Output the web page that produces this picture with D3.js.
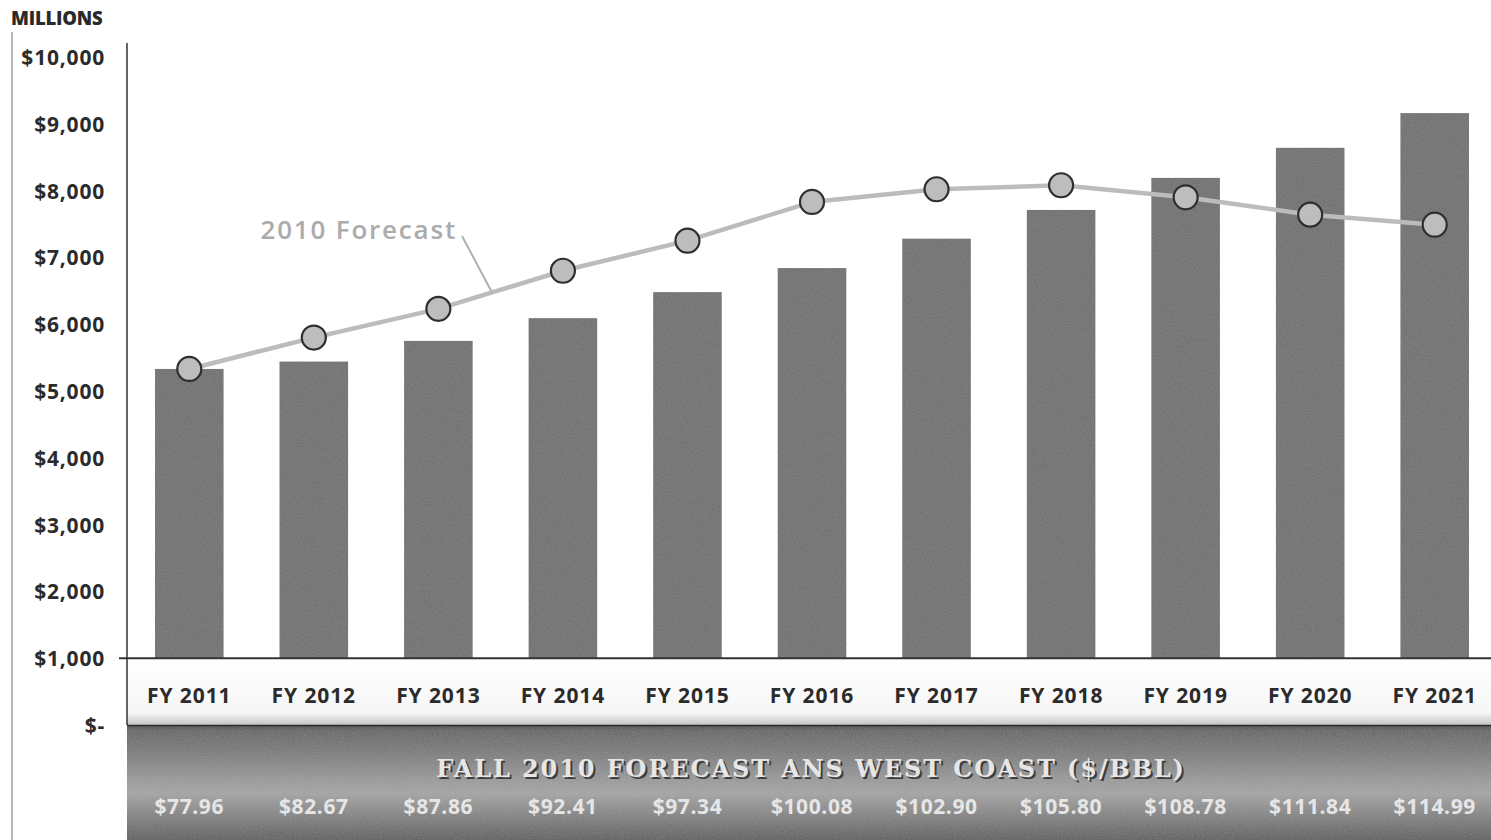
<!DOCTYPE html>
<html>
<head>
<meta charset="utf-8">
<script src="https://cdn.jsdelivr.net/npm/d3@7"></script>
<style>
  html, body { margin: 0; padding: 0; background: #fff; }
  svg { display: block; }
</style>
</head>
<body>
<svg id="chart" width="1491" height="840"></svg>
<script>
// Fiscal years shown along the x axis
const years = ["FY 2011", "FY 2012", "FY 2013", "FY 2014", "FY 2015", "FY 2016",
               "FY 2017", "FY 2018", "FY 2019", "FY 2020", "FY 2021"];
// Current projection (bars), $ millions
const current = [5330, 5440, 5750, 6090, 6480, 6840, 7280, 7710, 8190, 8640, 9160];
// 2010 forecast (line), $ millions
const forecast2010 = [5330, 5800, 6230, 6800, 7250, 7830, 8020, 8080, 7900, 7640, 7490];
// ANS West Coast oil price forecast, $/bbl
const oilPrice = ["$77.96", "$82.67", "$87.86", "$92.41", "$97.34", "$100.08",
                  "$102.90", "$105.80", "$108.78", "$111.84", "$114.99"];
// Y axis tick values and labels
const yTicks = [0, 1000, 2000, 3000, 4000, 5000, 6000, 7000, 8000, 9000, 10000];
const yTickLabels = ["$-", "$1,000", "$2,000", "$3,000", "$4,000", "$5,000",
                     "$6,000", "$7,000", "$8,000", "$9,000", "$10,000"];
const priceTitle = "FALL 2010 FORECAST ANS WEST COAST ($/BBL)";

const svg = d3.select("#chart");
const W = 1491, H = 840;
const left = 127, right = 1497;
const sans = "Open Sans, sans-serif";

const x = d3.scaleBand().domain(years).range([left, right])
  .paddingInner(0.45).paddingOuter(0.225);
const y = d3.scaleLinear().domain([0, 10000]).range([725, 57]);

const defs = svg.append("defs");
const grad = defs.append("linearGradient").attr("id", "bandGrad")
  .attr("x1", 0).attr("y1", 0).attr("x2", 0).attr("y2", 1);
[[0, "#3a3a3a"], [0.05, "#5e5e5e"], [0.25, "#777777"], [0.5, "#9a9a9a"],
 [0.6, "#a2a2a2"], [0.8, "#7c7c7c"], [1, "#555555"]]
  .forEach(([o, c]) => grad.append("stop").attr("offset", o).attr("stop-color", c));

const shade = defs.append("linearGradient").attr("id", "shadeGrad")
  .attr("x1", 0).attr("y1", 0).attr("x2", 0).attr("y2", 1);
[[0, "#ffffff"], [0.82, "#f6f6f6"], [1, "#c4c4c4"]]
  .forEach(([o, c]) => shade.append("stop").attr("offset", o).attr("stop-color", c));

// Grain texture for the bars and the price band
function grainFilter(id, level, alpha, seed) {
  const f = defs.append("filter").attr("id", id)
    .attr("x", 0).attr("y", 0).attr("width", 1).attr("height", 1);
  f.append("feTurbulence").attr("type", "fractalNoise")
    .attr("baseFrequency", 0.9).attr("numOctaves", 2).attr("seed", seed).attr("result", "noise");
  f.append("feColorMatrix").attr("in", "noise").attr("type", "matrix")
    .attr("values", `0 0 0 0 ${level}  0 0 0 0 ${level}  0 0 0 0 ${level}  0 0 0 ${alpha} 0`)
    .attr("result", "tint");
  f.append("feComposite").attr("in", "tint").attr("in2", "SourceGraphic")
    .attr("operator", "in").attr("result", "g");
  const m = f.append("feMerge");
  m.append("feMergeNode").attr("in", "SourceGraphic");
  m.append("feMergeNode").attr("in", "g");
}
grainFilter("grain", 0.4, 0.35, 3);
grainFilter("grainBand", 0.55, 0.25, 7);

// Left frame edge
svg.append("line").attr("x1", 12).attr("x2", 12).attr("y1", 32).attr("y2", 840)
  .attr("stroke", "#a0a0a0").attr("stroke-width", 1.5);

// "MILLIONS" unit label
svg.append("text").attr("x", 11).attr("y", 25)
  .attr("font-family", sans).attr("font-weight", 800)
  .attr("font-size", 18.5).attr("letter-spacing", -0.2).attr("fill", "#2a2a2a")
  .text("MILLIONS");

// Bars
svg.append("g").selectAll("rect").data(years).join("rect")
  .attr("x", d => x(d))
  .attr("width", x.bandwidth())
  .attr("y", (d, i) => y(current[i]))
  .attr("height", (d, i) => y(0) - y(current[i]))
  .attr("fill", "#6a6a6a")
  .attr("filter", "url(#grain)");

// Category label strip covering the $0-$1,000 zone
svg.append("rect").attr("x", left).attr("y", y(1000))
  .attr("width", W - left).attr("height", y(0) - y(1000))
  .attr("fill", "url(#shadeGrad)");

svg.append("g").selectAll("text").data(years).join("text")
  .attr("x", d => x(d) + x.bandwidth() / 2)
  .attr("y", 703)
  .attr("text-anchor", "middle")
  .attr("font-family", sans).attr("font-weight", 700)
  .attr("font-size", 21).attr("letter-spacing", 0.9).attr("fill", "#2b2b2b")
  .text(d => d);

// Baseline at $1,000
svg.append("line").attr("x1", 119).attr("x2", W).attr("y1", y(1000)).attr("y2", y(1000))
  .attr("stroke", "#333").attr("stroke-width", 2);

// Vertical axis line
svg.append("line").attr("x1", left).attr("x2", left)
  .attr("y1", y(10000) - 14).attr("y2", y(0))
  .attr("stroke", "#333").attr("stroke-width", 1.5);

// Y axis labels
const yAxis = d3.axisLeft(y).tickValues(yTicks).tickSize(0).tickPadding(0)
  .tickFormat((d, i) => yTickLabels[i]);
const ya = svg.append("g").attr("transform", "translate(105,0)").call(yAxis);
ya.select(".domain").remove();
ya.selectAll("text")
  .attr("font-family", sans).attr("font-weight", 700)
  .attr("font-size", 21).attr("letter-spacing", 0.8).attr("fill", "#2b2b2b")
  .attr("dy", "0.36em");

// Oil price band
svg.append("rect").attr("x", left).attr("y", y(0))
  .attr("width", W - left).attr("height", H - y(0))
  .attr("fill", "url(#bandGrad)").attr("filter", "url(#grainBand)");
svg.append("line").attr("x1", left).attr("x2", W).attr("y1", y(0) + 0.5).attr("y2", y(0) + 0.5)
  .attr("stroke", "#2a2a2a").attr("stroke-width", 1.5);

// Band title, embossed
const tx = (left + W) / 2 + 2, ty = 777;
const titleStyle = s => s.attr("text-anchor", "middle")
  .attr("font-family", "DejaVu Serif, serif").attr("font-weight", 700)
  .attr("font-size", 24).attr("letter-spacing", 1.9);
svg.append("text").attr("x", tx + 2).attr("y", ty + 2).call(titleStyle)
  .attr("fill", "#3c3c3c").text(priceTitle);
svg.append("text").attr("x", tx).attr("y", ty).call(titleStyle)
  .attr("fill", "#e6e6e6").text(priceTitle);

// Price labels
svg.append("g").selectAll("text").data(years).join("text")
  .attr("x", d => x(d) + x.bandwidth() / 2)
  .attr("y", 814)
  .attr("text-anchor", "middle")
  .attr("font-family", sans).attr("font-weight", 700)
  .attr("font-size", 21).attr("letter-spacing", 0.6).attr("fill", "#e6e6e6")
  .text((d, i) => oilPrice[i]);

// 2010 forecast line
const cx = d => x(d) + x.bandwidth() / 2;
const line = d3.line().x(d => cx(d[0])).y(d => y(d[1]));
const pts = years.map((d, i) => [d, forecast2010[i]]);
svg.append("path").datum(pts).attr("d", line)
  .attr("fill", "none").attr("stroke", "#bcbcbc").attr("stroke-width", 4.5);

// Callout for the forecast line
const i0 = 2, i1 = 3;
const lx = 492;
const t = (lx - cx(years[i0])) / (cx(years[i1]) - cx(years[i0]));
const ly = y(forecast2010[i0] + t * (forecast2010[i1] - forecast2010[i0]));
svg.append("line").attr("x1", 462).attr("y1", 236).attr("x2", lx).attr("y2", ly)
  .attr("stroke", "#b0b0b0").attr("stroke-width", 2);
svg.append("text").attr("x", 457).attr("y", 239).attr("text-anchor", "end")
  .attr("font-family", sans).attr("font-weight", 600)
  .attr("font-size", 26).attr("letter-spacing", 1.8).attr("fill", "#ababab")
  .text("2010 Forecast");

svg.append("g").selectAll("circle").data(pts).join("circle")
  .attr("cx", d => cx(d[0])).attr("cy", d => y(d[1])).attr("r", 12)
  .attr("fill", "#bdbdbd").attr("stroke", "#2e2e2e").attr("stroke-width", 2.2);
</script>
</body>
</html>
